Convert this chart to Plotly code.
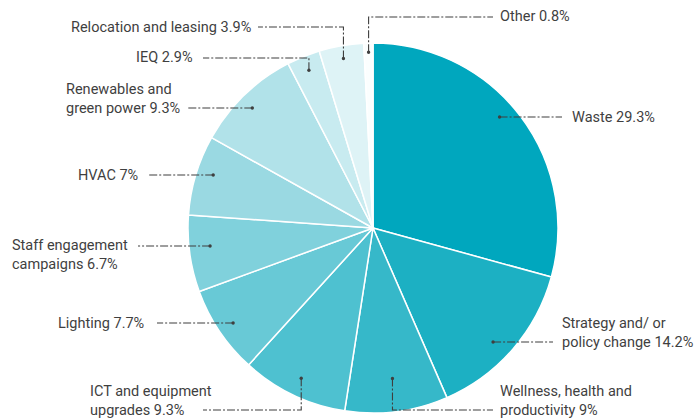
import math
import plotly.graph_objects as go

# ---- data ----
categories = ["Waste", "Strategy and/ or<br>policy change", "Wellness, health and<br>productivity",
              "ICT and equipment<br>upgrades", "Lighting", "Staff engagement<br>campaigns", "HVAC",
              "Renewables and<br>green power", "IEQ", "Relocation and leasing", "Other"]
shares = [29.3, 14.2, 9, 9.3, 7.7, 6.7, 7, 9.3, 2.9, 3.9, 0.8]
share_labels = ["29.3%", "14.2%", "9%", "9.3%", "7.7%", "6.7%", "7%", "9.3%", "2.9%", "3.9%", "0.8%"]

# ---- style ----
slice_colors = ["#00A7BE", "#1CB0C3", "#36B8C9", "#4EC1D0", "#68C9D6", "#80D1DC",
                "#9AD9E2", "#B1E2E9", "#C8EBF0", "#DEF3F6", "#FBFEFE"]
W, H = 696, 419
px_left, px_right, px_top, px_bottom = 188, 558, 43, 413
cx, cy = (px_left + px_right) / 2, (px_top + px_bottom) / 2
R = (px_right - px_left) / 2

# label layout: anchor radius fraction, leader y (px, horizontal leaders) or elbow y,
# leader end x (px), text x (px), text anchor, which text line sits on the leader
label_layout = [
    dict(rf=0.91, hy=117, ey=None, ex=562, tx=570, side="left", line="single"),
    dict(rf=0.895, hy=342, ey=None, ex=553, tx=560, side="left", line="second"),
    dict(rf=0.82, hy=None, ey=410, ex=493, tx=498, side="left", line="second"),
    dict(rf=0.90, hy=None, ey=410, ex=203, tx=88, side="left", line="second"),
    dict(rf=0.914, hy=323, ey=None, ex=157, tx=146, side="right", line="single"),
    dict(rf=0.886, hy=246, ey=None, ex=138, tx=130, side="right", line="first"),
    dict(rf=0.91, hy=175, ey=None, ex=148, tx=140, side="right", line="single"),
    dict(rf=0.92, hy=108, ey=None, ex=188, tx=182, side="right", line="second"),
    dict(rf=0.92, hy=None, ey=58, ex=203, tx=195, side="right", line="single"),
    dict(rf=0.93, hy=None, ey=27, ex=258, tx=253, side="right", line="single"),
    dict(rf=0.95, hy=None, ey=17, ex=493, tx=498, side="left", line="single"),
]
line_gap = 18
ink = "#3f3f3f"


def P(x, y):
    return x / W, 1 - y / H


fig = go.Figure(go.Pie(
    labels=[c.replace("<br>", " ") for c in categories],
    values=shares,
    sort=False,
    direction="clockwise",
    rotation=0,
    textinfo="none",
    hoverinfo="label+percent",
    marker=dict(colors=slice_colors, line=dict(color="white", width=1.5)),
    domain=dict(x=[px_left / W, px_right / W], y=[1 - px_bottom / H, 1 - px_top / H]),
    showlegend=False,
))

total = sum(shares)
shapes, annotations = [], []
cum = 0.0
for cat, val, vlab, lay in zip(categories, shares, share_labels, label_layout):
    mid = (cum + val / 2) / total * 2 * math.pi
    cum += val
    r = lay["rf"] * R
    if lay["hy"] is not None:
        # anchor on the leader's row, inside the slice at radius r
        ay = lay["hy"]
        sgn = 1 if math.sin(mid) >= 0 else -1
        ax = cx + sgn * math.sqrt(max(r * r - (ay - cy) ** 2, 0))
    else:
        ax, ay = cx + r * math.sin(mid), cy - r * math.cos(mid)
    ly = lay["ey"] if lay["ey"] is not None else ay
    pts = [(ax, ay)]
    if lay["ey"] is not None:
        pts.append((ax, ly))
    pts.append((lay["ex"], ly))
    path = "M " + " L ".join("{:.5f},{:.5f}".format(*P(x, y)) for x, y in pts)
    shapes.append(dict(type="path", xref="paper", yref="paper", path=path,
                       line=dict(color=ink, width=1.1, dash="8px,2px,2px,2px")))
    dx0, dy0 = P(ax - 1.7, ay - 1.7)
    dx1, dy1 = P(ax + 1.7, ay + 1.7)
    shapes.append(dict(type="circle", xref="paper", yref="paper", x0=dx0, y0=dy1, x1=dx1, y1=dy0,
                       fillcolor=ink, line=dict(width=0)))
    if lay["line"] == "second":
        ty = ly - line_gap / 2
    elif lay["line"] == "first":
        ty = ly + line_gap / 2
    else:
        ty = ly
    tx, typ = P(lay["tx"], ty)
    annotations.append(dict(x=tx, y=typ, xref="paper", yref="paper", showarrow=False,
                            text=cat + " " + vlab, xanchor=lay["side"], yanchor="middle",
                            align="left", font=dict(family="Roboto", size=14.5, color=ink)))

fig.update_layout(width=W, height=H, margin=dict(l=0, r=0, t=0, b=0),
                  paper_bgcolor="white", plot_bgcolor="white",
                  shapes=shapes, annotations=annotations)
fig.write_html("out.html", config={"displayModeBar": False},
               post_script="document.body.style.margin='0px';")
